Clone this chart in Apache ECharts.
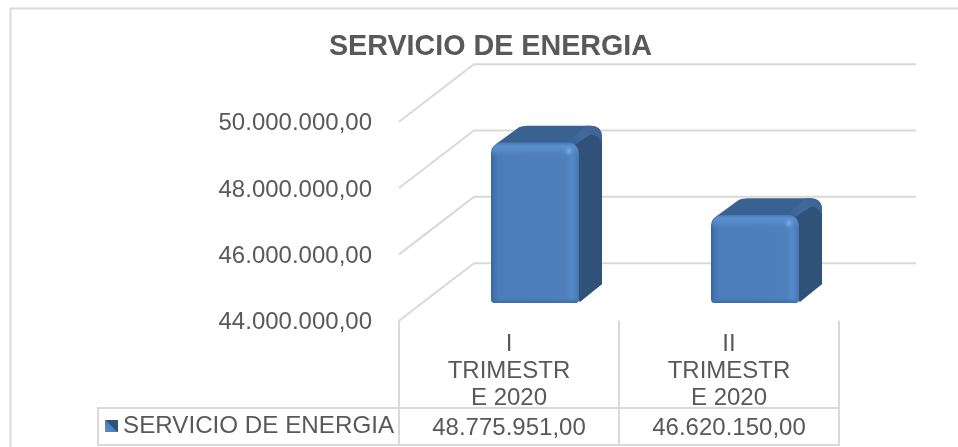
<!DOCTYPE html>
<html><head><meta charset="utf-8">
<style>html,body{margin:0;padding:0;background:#fff}#c{width:958px;height:447px}</style>
<script src="https://cdn.jsdelivr.net/npm/echarts@6/dist/echarts.min.js"></script>
</head><body><div id="c"></div>
<script>
const categories = ['I\nTRIMESTR\nE 2020', 'II\nTRIMESTR\nE 2020'];
const seriesName = 'SERVICIO DE ENERGIA';
const values = [48775951, 46620150];
const tickValues = [44000000, 46000000, 48000000, 50000000];
const chartTitle = 'SERVICIO DE ENERGIA';

const FONT = '"Liberation Sans", Arial, sans-serif';
const TXT = '#595959', LINE = '#d9d9d9';
const fmt = v => Math.floor(v).toString().replace(/\B(?=(\d{3})+$)/g, '.') + ',00';
const lg = (x, y, x2, y2, stops) => ({type:'linear', x, y, x2, y2, colorStops: stops.map(s => ({offset:s[0], color:s[1]}))});

function wall(params, api) {
  const p = api.coord([0, api.value(1)]);
  const x0 = params.coordSys.x, y = p[1];
  return {type:'polyline', silent:true,
    shape:{points:[[x0,y],[x0+75,y-57.5],[916,y-57.5]]},
    style:{stroke:LINE, lineWidth:2, fill:null}};
}

function bar(params, api) {
  const c = api.coord([api.value(0), api.value(1)]);
  const base = api.coord([api.value(0), 44000000]);
  const w = api.size([1,0])[0]*0.4;
  const l = c[0]+26-w/2, r = l+w, t = c[1], b = base[1];
  const dx = 23, dy = 17, R = 10;
  const body = `M${l+4} ${t+2} L${l+28} ${t-dy+1.5} Q${l+31} ${t-dy} ${l+36} ${t-dy} L${r+dx-12} ${t-dy} Q${r+dx} ${t-dy} ${r+dx} ${t-dy+12} L${r+dx} ${b-dy-2} L${r+1} ${b-1} L${r} ${t+8} Z`;
  const side = `M${r-4} ${t+2} L${r+dx-12} ${t-dy+9} Q${r+dx-6} ${t-dy+7} ${r+dx} ${t-dy+16} L${r+dx} ${b-dy-2} L${r} ${b-1} Z`;
  const top = [
    {type:'path', shape:{pathData:body, layout:'none'}, style:{fill:'#3a6291', stroke:null}},
    {type:'path', shape:{pathData:side, layout:'none'}, style:{fill:'#305278', stroke:null}},
    // corner sheen between top and side faces
    {type:'path', shape:{pathData:`M${r-4} ${t+2} L${r+dx-12} ${t-dy+9} Q${r+dx-6} ${t-dy+7} ${r+dx} ${t-dy+16} L${r+dx} ${t-dy+12} Q${r+dx} ${t-dy} ${r+dx-12} ${t-dy} L${r+dx-16} ${t-dy} L${r-12} ${t} Z`, layout:'none'},
      style:{fill:lg(0,1,1,0,[[0,'#3a6291'],[0.5,'#41699a'],[1,'#3a6190']]), stroke:null}},
    // front face
    {type:'rect', shape:{x:l,y:t,width:w,height:b-t,r:[R,R,4,4]},
      style:{fill:lg(0,0,1,0,[[0,'#35669e'],[0.04,'#4274ae'],[0.09,'#4c7dba'],[0.86,'#4f80bc'],[0.92,'#568ac9'],[0.97,'#4c7fbb'],[1,'#4373ac']])}},
    // top bevel
    {type:'rect', shape:{x:l+1,y:t,width:w-2,height:14,r:[R,R,0,0]},
      style:{fill:lg(0,0,0,1,[[0,'#4a7cb8'],[0.25,'#5a8ecd'],[0.55,'#5288c6'],[1,'rgba(79,128,188,0)'] ])}},
    // bottom bevel
    {type:'rect', shape:{x:l,y:b-5,width:w,height:5,r:[0,0,4,4]},
      style:{fill:lg(0,0,0,1,[[0,'rgba(70,115,170,0)'],[1,'#3d6ca5']])}},
    // highlight at top-right corner
    {type:'circle', shape:{cx:r-10,cy:t+8,r:6},
      style:{fill:{type:'radial',x:.5,y:.5,r:.5,colorStops:[{offset:0,color:'rgba(125,175,235,.95)'},{offset:1,color:'rgba(100,150,215,0)'}]}}}
  ];
  return {type:'group', children:top, silent:true};
}

const chart = echarts.init(document.getElementById('c'), null, {renderer:'canvas'});
chart.setOption({
  animation:false,
  backgroundColor:'#fff',
  textStyle:{fontFamily:FONT},
  title:{text:chartTitle, left:485.5, textAlign:'center', top:28,
    textStyle:{fontFamily:FONT, fontSize:28.7, fontWeight:'bold', color:TXT}},
  legend:{left:105, top:414, data:[{name:seriesName, icon:'rect',
      itemStyle:{color:lg(0,1,1,0,[[0,'#5a8ccb'],[0.5,'#4a7cb8'],[0.5,'#2f5279'],[1,'#2f5279']])}}],
    itemWidth:13, itemHeight:12, itemGap:0, padding:[0,0,0,0],
    textStyle:{fontFamily:FONT, fontSize:24.2, color:TXT}, selectedMode:false},
  grid:[
    {left:399, width:440, top:121.7, height:199},
    {left:399, width:440, top:101.8, height:201.2}
  ],
  xAxis:[
    {gridIndex:0, type:'category', data:categories, position:'bottom',
      axisLine:{show:false},
      axisTick:{show:true, length:125, lineStyle:{color:LINE, width:2}},
      axisLabel:{interval:0, margin:10, fontFamily:FONT, fontSize:24, lineHeight:27, color:TXT}},
    {gridIndex:0, type:'category', data:values.map(fmt), position:'bottom', offset:84,
      axisLine:{show:false}, axisTick:{show:false},
      axisLabel:{interval:0, margin:10, fontFamily:FONT, fontSize:24, lineHeight:27, color:TXT}},
    {gridIndex:1, type:'category', data:categories, show:false}
  ],
  yAxis:[
    {gridIndex:0, type:'value', min:44000000, max:50000000, interval:2000000,
      axisLine:{show:false}, axisTick:{show:false}, splitLine:{show:false},
      axisLabel:{margin:27, fontFamily:FONT, fontSize:24, color:TXT,
        formatter:v => '{a|' + fmt(v) + '}',
        rich:{a:{fontFamily:FONT, fontSize:24, color:TXT, lineHeight:28, padding:[4,0,0,0]}}}},
    {gridIndex:1, type:'value', min:44000000, max:50000000, interval:2000000, show:false, splitLine:{show:false}}
  ],
  graphic:[
    {type:'polyline', silent:true, z:0, shape:{points:[[10.5,447],[10.5,8.5],[958,8.5]]}, style:{stroke:LINE, lineWidth:2, fill:null}},
    {type:'polyline', silent:true, z:0, shape:{points:[[399,408],[98,408],[98,445],[840,445]]}, style:{stroke:LINE, lineWidth:2, fill:null}},
    {type:'line', silent:true, z:0, shape:{x1:399,y1:408,x2:839,y2:408}, style:{stroke:LINE, lineWidth:2}}
  ],
  series:[
    {type:'custom', name:'walls', xAxisIndex:0, yAxisIndex:0, clip:false, z:1, renderItem:wall,
      data:tickValues.map(v => [0, v])},
    {type:'custom', name:seriesName, xAxisIndex:2, yAxisIndex:1, clip:false, z:2, renderItem:bar,
      itemStyle:{color:'#4f81bd'},
      encode:{x:0,y:1},
      data:values.map((v,i) => [i, v])}
  ]
});
</script></body></html>
